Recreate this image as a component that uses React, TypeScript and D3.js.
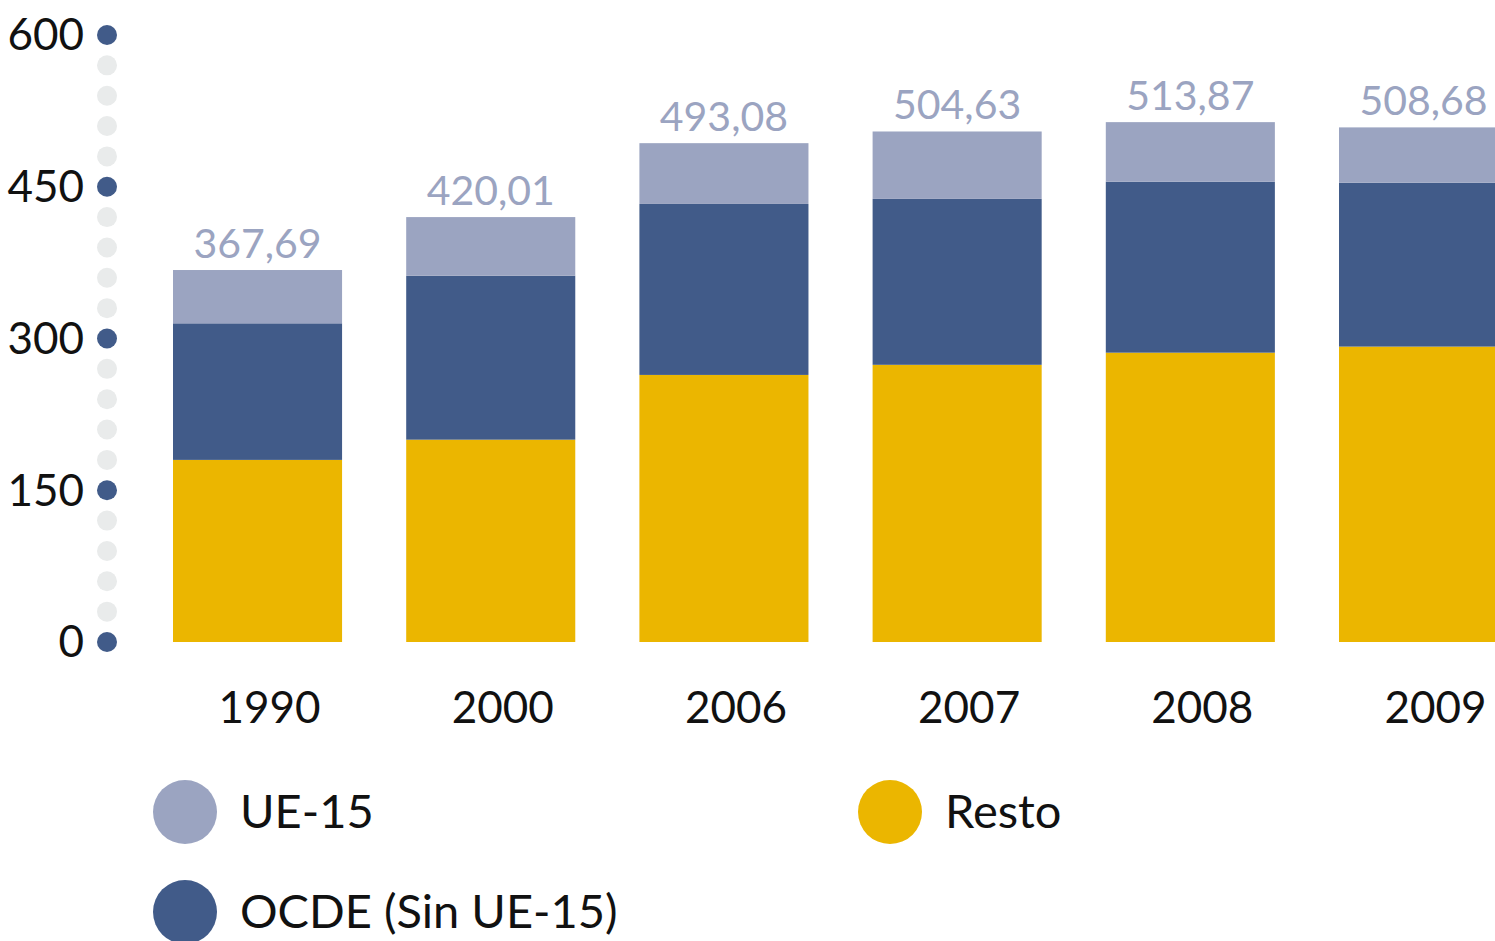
import React, { useEffect, useRef } from "react";
import * as d3 from "d3";

const years = ["1990", "2000", "2006", "2007", "2008", "2009"];
const resto = [180, 200, 264, 274, 286, 292];
const ocde = [135, 162, 169, 164, 169, 162];
const totals = [367.69, 420.01, 493.08, 504.63, 513.87, 508.68];
const totalLabels = ["367,69", "420,01", "493,08", "504,63", "513,87", "508,68"];
const yTicks = [0, 150, 300, 450, 600];

const seriesKeys = ["resto", "ocde", "ue"];
const seriesNames: Record<string, string> = {
  ue: "UE-15",
  ocde: "OCDE (Sin UE-15)",
  resto: "Resto",
};
const colors: Record<string, string> = {
  resto: "#ebb600",
  ocde: "#415b89",
  ue: "#9ba4c1",
};

const WIDTH = 1495;
const HEIGHT = 941;
const FONT = "Lato, 'Open Sans', sans-serif";

export default function App() {
  const ref = useRef<SVGSVGElement>(null);

  useEffect(() => {
    const rows = years.map((y, i) => ({
      year: y,
      resto: resto[i],
      ocde: ocde[i],
      ue: +(totals[i] - resto[i] - ocde[i]).toFixed(2),
      total: totals[i],
      label: totalLabels[i],
    }));

    const svg = d3.select(ref.current);
    svg.selectAll("*").remove();

    const yScale = d3.scaleLinear().domain([0, 600]).range([642, 35]);
    const step = 233.2;
    const x0 = 173 - 0.275 * step * 0.5;
    const xScale = d3
      .scaleBand()
      .domain(years)
      .range([x0, x0 + step * 6])
      .paddingInner(0.275)
      .paddingOuter(0.1375);

    // dotted axis
    const minor = d3.range(0, 600.1, 30);
    svg.append("g")
      .selectAll("circle")
      .data(minor)
      .join("circle")
      .attr("cx", 107)
      .attr("cy", (d) => yScale(d))
      .attr("r", 10)
      .attr("fill", (d) => (d % 150 === 0 ? "#415b89" : "#e9ebeb"));

    svg.append("g")
      .selectAll("text")
      .data(yTicks)
      .join("text")
      .attr("x", 84)
      .attr("y", (d) => yScale(d))
      .attr("dy", "0.35em")
      .attr("text-anchor", "end")
      .attr("font-family", FONT)
      .attr("font-size", 44)
      .attr("fill", "#111")
      .text((d) => d);

    // stacked bars
    const stacked = d3.stack<any>().keys(seriesKeys)(rows);
    svg.append("g")
      .selectAll("g")
      .data(stacked)
      .join("g")
      .attr("fill", (s) => colors[s.key])
      .selectAll("rect")
      .data((s) => s)
      .join("rect")
      .attr("x", (d: any) => xScale(d.data.year)!)
      .attr("width", xScale.bandwidth())
      .attr("y", (d) => yScale(d[1]))
      .attr("height", (d) => yScale(d[0]) - yScale(d[1]));

    // totals
    svg.append("g")
      .selectAll("text")
      .data(rows)
      .join("text")
      .attr("x", (d) => xScale(d.year)! + xScale.bandwidth() / 2)
      .attr("y", (d) => yScale(d.total) - 12)
      .attr("text-anchor", "middle")
      .attr("font-family", FONT)
      .attr("font-size", 41)
      .attr("fill", "#9ba4c1")
      .text((d) => d.label);

    // x labels
    svg.append("g")
      .selectAll("text")
      .data(years)
      .join("text")
      .attr("x", (d) => xScale(d)! + xScale.bandwidth() / 2 + 12)
      .attr("y", 723)
      .attr("text-anchor", "middle")
      .attr("font-family", FONT)
      .attr("font-size", 44)
      .attr("fill", "#111")
      .text((d) => d);

    // legend
    const legend = [
      { key: "ue", x: 185, y: 812 },
      { key: "resto", x: 890, y: 812 },
      { key: "ocde", x: 185, y: 912 },
    ];
    const lg = svg.append("g")
      .selectAll("g")
      .data(legend)
      .join("g")
      .attr("transform", (d) => `translate(${d.x},${d.y})`);
    lg.append("circle")
      .attr("r", 32)
      .attr("fill", (d) => colors[d.key]);
    lg.append("text")
      .attr("x", 55)
      .attr("dy", "0.35em")
      .attr("font-family", FONT)
      .attr("font-size", 47)
      .attr("fill", "#111")
      .text((d) => seriesNames[d.key]);
  }, []);

  return (
    <svg
      ref={ref}
      width={WIDTH}
      height={HEIGHT}
      style={{ position: "absolute", left: 0, top: 0, background: "#fff" }}
    />
  );
}
